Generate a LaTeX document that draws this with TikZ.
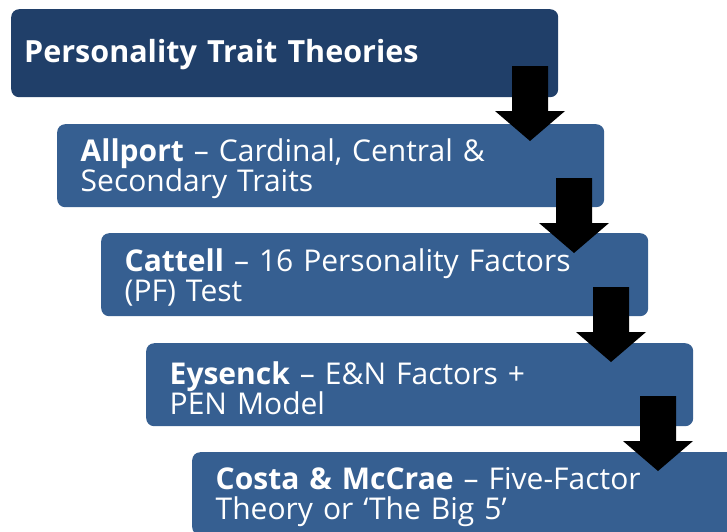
\documentclass[tikz,border=0pt]{standalone}
\usepackage{fontspec}
\setmainfont{Open Sans}
\definecolor{navybox}{HTML}{203F69}
\definecolor{steelbox}{HTML}{365F91}
\newcommand\boxstrut{\rule{0pt}{29pt}}
\begin{document}
\begin{tikzpicture}[x=1pt,y=-1pt,
  box/.style={rounded corners=8pt, anchor=north west, text=white,
    font=\fontsize{30}{30}\selectfont, align=left, inner ysep=0pt,
    minimum width=547pt},
  subbox/.style={box, fill=steelbox, inner xsep=23.5pt, text width=500pt, minimum height=83pt},
  blockarrow/.pic={\fill[black] (0,0) -- (36,0) -- (36,45) -- (53,45) -- (18,75) -- (-17,45) -- (0,45) -- cycle;}
]
\clip (0,0) rectangle (727,531);
\node[box, fill=navybox, inner xsep=13pt, text width=521pt, minimum height=88pt,
  font=\fontsize{30.5}{30}\selectfont] (title) at (11,9)
  {\rule{0pt}{26pt}\textbf{Personality Trait Theories}};
\node[subbox] (allport) at (57,124)
  {\boxstrut\textbf{Allport} – Cardinal, Central \&\\Secondary Traits};
\node[subbox] (cattell) at (101,233)
  {\boxstrut\textbf{Cattell} – 16 Personality Factors\\(PF) Test};
\node[subbox] (eysenck) at (146,343)
  {\boxstrut\textbf{Eysenck} – E\&N Factors +\\PEN Model};
\node[subbox] (costa) at (192,452)
  {\boxstrut\textbf{Costa \& McCrae} – Five-Factor\\Theory or ‘The Big 5’};
\pic at (512,66) {blockarrow};
\pic at (556,178) {blockarrow};
\pic at (593,287) {blockarrow};
\pic at (640,396) {blockarrow};
\end{tikzpicture}
\end{document}
